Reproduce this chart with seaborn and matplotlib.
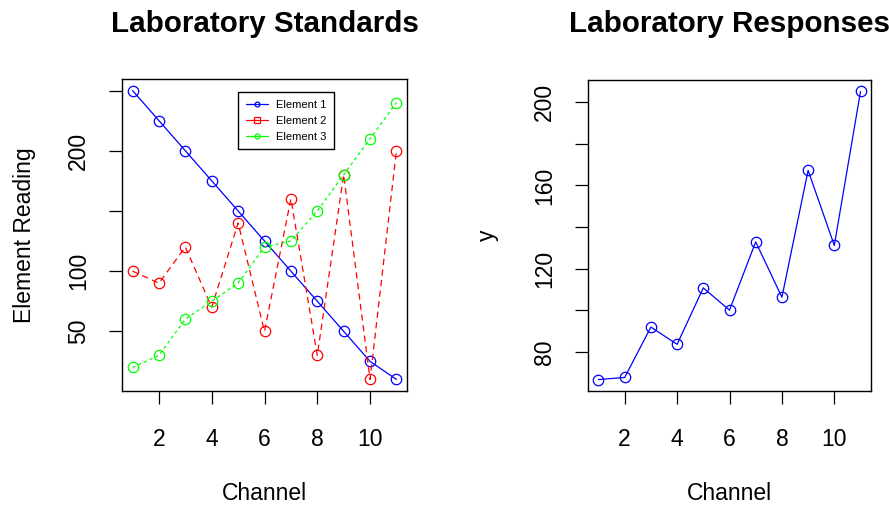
import numpy as np
import pandas as pd
import matplotlib
matplotlib.use("Agg")
import matplotlib.pyplot as plt
from matplotlib.lines import Line2D
import seaborn as sns

# ---- data ----
channel = list(range(1, 12))
element1 = [250, 225, 200, 175, 150, 125, 100, 75, 50, 25, 10]
element2 = [100, 90, 120, 70, 140, 50, 160, 30, 180, 10, 200]
element3 = [20, 30, 60, 75, 90, 120, 125, 150, 180, 210, 240]
response = [66.8, 67.8, 92.0, 83.7, 110.8, 100.1, 132.9, 106.3, 167.2, 131.2, 205.1]

left_yticks = [50, 100, 150, 200, 250]
left_ylabels = ["50", "100", "", "200", ""]
right_yticks = [80, 100, 120, 140, 160, 180, 200]
right_ylabels = ["80", "", "120", "", "160", "", "200"]
xticks = [2, 4, 6, 8, 10]
series_names = ["Element 1", "Element 2", "Element 3"]

sns.set_style("ticks")
plt.rcParams["font.family"] = ["Liberation Sans", "DejaVu Sans"]
for k in ("text.color", "axes.labelcolor", "xtick.color", "ytick.color",
          "axes.edgecolor"):
    plt.rcParams[k] = "black"

W, H = 889, 508
fig = plt.figure(figsize=(W / 100, H / 100), dpi=100)

def rect(l, t, r, b):
    return [l / W, (H - b) / H, (r - l) / W, (b - t) / H]

ax1 = fig.add_axes(rect(122, 79, 407, 391))
ax2 = fig.add_axes(rect(588, 80, 871, 391))

colors = ["#0000FF", "#FF0000", "#00FF00"]
styles = ["-", (0, (5, 3.5)), (0, (2.5, 2.5))]
mk = dict(marker="o", markersize=7.5, markerfacecolor="none", markeredgewidth=0.9)

df = pd.DataFrame({"Channel": channel, "Element 1": element1,
                   "Element 2": element2, "Element 3": element3,
                   "y": response})

for name, c, ls in zip(series_names, colors, styles):
    sns.lineplot(data=df, x="Channel", y=name, ax=ax1, color=c,
                 linestyle=ls, linewidth=0.9, markeredgecolor=c, **mk)

sns.lineplot(data=df, x="Channel", y="y", ax=ax2, color="#0000FF",
             linewidth=0.9, markeredgecolor="#0000FF", **mk)

ax1.set_xlim(0.6, 11.4)
ax1.set_ylim(0.4, 259.6)
ax2.set_xlim(0.6, 11.4)
ax2.set_ylim(61.3, 210.6)

for ax in (ax1, ax2):
    ax.set_xticks(xticks)
    ax.set_xticklabels([str(t) for t in xticks])
    ax.tick_params(axis="both", length=9.4, width=0.9, color="black",
                   labelcolor="black", labelsize=16.5)
    ax.tick_params(axis="x", pad=17)
    ax.tick_params(axis="y", labelrotation=90, pad=13.5)
    for s in ax.spines.values():
        s.set_visible(True)
        s.set_color("black")
        s.set_linewidth(1.0)

ax1.set_yticks(left_yticks)
ax1.set_yticklabels(left_ylabels, va="center")
ax2.set_yticks(right_yticks)
ax2.set_yticklabels(right_ylabels, va="center")

ax1.set_xlabel("Channel", fontsize=16.5)
ax2.set_xlabel("Channel", fontsize=16.5)
ax1.set_ylabel("Element Reading", fontsize=16.5)
ax2.set_ylabel("y", fontsize=16.5)
ax1.xaxis.set_label_coords(0.5, -0.292)
ax2.xaxis.set_label_coords(0.5, -0.293)
ax1.yaxis.set_label_coords((25 - 122) / 285, 0.5)
ax2.yaxis.set_label_coords((487 - 588) / 283, 0.5)
ax1.yaxis.label.set_va("center")
ax2.yaxis.label.set_va("center")

ax1.set_title("Laboratory Standards", fontsize=21.3, fontweight="bold",
              y=1 + 47 / 312, pad=0)
ax2.set_title("Laboratory Responses", fontsize=21.3, fontweight="bold",
              y=1 + 48 / 311, pad=0)

handles = [
    Line2D([], [], color=colors[0], linestyle="-", linewidth=0.9, marker="o",
           markersize=3.5, markerfacecolor="none", markeredgewidth=0.9),
    Line2D([], [], color=colors[1], linestyle="-", linewidth=0.9, marker="s",
           markersize=4.5, markerfacecolor="none", markeredgewidth=0.9),
    Line2D([], [], color=colors[2], linestyle="-", linewidth=0.9, marker="o",
           markersize=3.5, markerfacecolor="none", markeredgewidth=0.9),
]
leg = ax1.legend(handles, series_names, loc="upper left",
                 bbox_to_anchor=(238 / W, (H - 92) / H),
                 bbox_transform=fig.transFigure, fontsize=8,
                 frameon=True, fancybox=False, framealpha=1,
                 edgecolor="black", borderaxespad=0, handlelength=2.0,
                 handletextpad=0.75, labelspacing=0.55, borderpad=0.68)
leg.get_frame().set_linewidth(1.0)

fig.savefig("out.png", dpi=100)
